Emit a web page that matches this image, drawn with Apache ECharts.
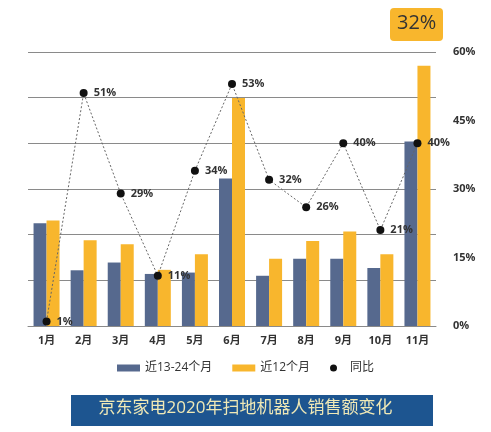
<!DOCTYPE html>
<html>
<head>
<meta charset="utf-8">
<script src="https://cdn.jsdelivr.net/npm/echarts@6/dist/echarts.min.js"></script>
<style>
  html, body { margin: 0; padding: 0; background: #fff; }
  #main { width: 491px; height: 432px; }
</style>
</head>
<body>
<div id="main"></div>
<script>
// 数据
var months = ['1月', '2月', '3月', '4月', '5月', '6月', '7月', '8月', '9月', '10月', '11月'];
var prev12 = [22.5, 12.2, 13.9, 11.4, 11.7, 32.3, 11.0, 14.7, 14.7, 12.7, 40.4];   // 近13-24个月
var last12 = [23.1, 18.8, 17.9, 12.3, 15.7, 49.9, 14.7, 18.6, 20.7, 15.7, 57.0];   // 近12个月
var yoy = [1, 51, 29, 11, 34, 53, 32, 26, 40, 21, 40];                              // 同比 %
var rightTicks = [0, 15, 30, 45, 60];
var titleText = '京东家电2020年扫地机器人销售额变化';
var badgeText = '32%';

var font = "'Open Sans', 'Noto Sans CJK SC', sans-serif";
var main = document.getElementById('main');
var myChart = echarts.init(main);

var option = {
    animation: false,
    textStyle: { fontFamily: font },
    grid: { left: 28, right: 55, top: 52, bottom: 106 },
    legend: {
        bottom: 53,
        left: 'center',
        itemWidth: 23,
        itemHeight: 7,
        itemGap: 20,
        textStyle: { fontSize: 12, color: '#333', fontFamily: font },
        data: [
            { name: '近13-24个月', icon: 'rect' },
            { name: '近12个月', icon: 'rect' },
            { name: '同比', icon: 'circle' }
        ]
    },
    xAxis: {
        type: 'category',
        data: months,
        axisLine: { show: true, lineStyle: { color: '#8a8a8a', width: 1 } },
        axisTick: { show: false },
        axisLabel: { fontSize: 11, color: '#333', fontWeight: 'bold', margin: 9 }
    },
    yAxis: [
        {   // 柱形图，隐藏刻度，只显示网格线
            type: 'value',
            min: 0, max: 60, interval: 10,
            axisLabel: { show: false },
            axisLine: { show: false },
            axisTick: { show: false },
            splitLine: { show: true, lineStyle: { color: '#8a8a8a', width: 1 } }
        },
        {   // 同比
            type: 'value',
            position: 'right',
            min: rightTicks[0], max: rightTicks[rightTicks.length - 1], interval: 15,
            axisLabel: { formatter: '{value}%', fontSize: 11, color: '#333', fontWeight: 'bold', margin: 17 },
            axisLine: { show: false },
            axisTick: { show: false },
            splitLine: { show: false }
        }
    ],
    series: [
        {
            name: '近13-24个月',
            type: 'bar',
            data: prev12,
            barWidth: 13,
            barGap: '0%',
            itemStyle: { color: '#56698e' }
        },
        {
            name: '近12个月',
            type: 'bar',
            data: last12,
            barWidth: 13,
            barGap: '0%',
            itemStyle: { color: '#f8b62d' }
        },
        {
            name: '同比',
            type: 'line',
            yAxisIndex: 1,
            data: yoy,
            symbol: 'circle',
            symbolSize: 8,
            z: 5,
            lineStyle: { color: '#666', width: 1, type: [2, 2] },
            itemStyle: { color: '#111' },
            label: {
                show: true,
                position: 'right',
                distance: 6,
                formatter: '{c}%',
                fontSize: 11,
                color: '#333',
                fontWeight: 'bold'
            }
        }
    ],
    graphic: [
        {
            type: 'rect',
            left: 390, top: 8,
            shape: { width: 53, height: 33, r: 4 },
            style: { fill: '#f8b62d' }
        },
        {
            type: 'text',
            left: 397, top: 13,
            style: { text: badgeText, fontSize: 20, fill: '#333', fontFamily: font }
        },
        {
            type: 'rect',
            left: 71, top: 395,
            shape: { width: 362, height: 31 },
            style: { fill: '#1d5590' }
        },
        {
            type: 'text',
            left: 'center', top: 400,
            style: { text: titleText, fontSize: 17, fill: '#f0e9b6', fontFamily: font }
        }
    ]
};

myChart.setOption(option);
window.onresize = function () {
    myChart.resize();
};
</script>
</body>
</html>
